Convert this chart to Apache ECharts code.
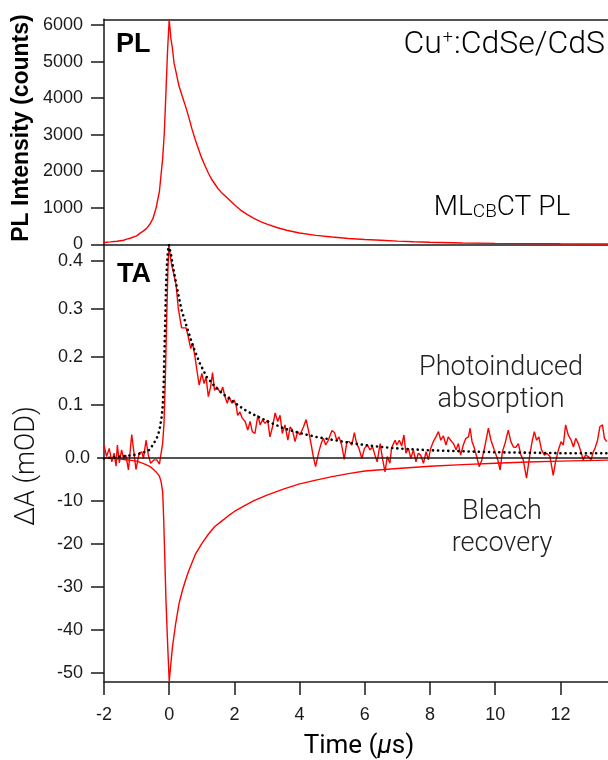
<!DOCTYPE html>
<html>
<head>
<meta charset="utf-8">
<script src="https://cdn.jsdelivr.net/npm/echarts@6/dist/echarts.min.js"></script>
<style>
html, body { margin: 0; padding: 0; background: #fff; }
#chart { width: 608px; height: 760px; }
</style>
</head>
<body>
<div id="chart"></div>
<script>
// tick labels
var timeTicks = [-2, 0, 2, 4, 6, 8, 10, 12];
var plTicks = [0, 1000, 2000, 3000, 4000, 5000, 6000];
var piaTicks = [0.1, 0.2, 0.3, 0.4];
var bleachTicks = [-50, -40, -30, -20, -10];

// PL trace (counts)
var plTime = [-2.0, -1.8, -1.6, -1.4, -1.3, -1.2, -1.0, -0.9, -0.8, -0.7, -0.6, -0.5, -0.4, -0.3, -0.2, -0.15, -0.1, -0.05, 0.0,
  0.05, 0.1, 0.15, 0.2, 0.3, 0.4, 0.5, 0.6, 0.7, 0.8, 0.9, 1.0, 1.1, 1.2, 1.3, 1.4, 1.5, 1.6, 1.8, 2.0, 2.2, 2.4, 2.6, 2.8,
  3.0, 3.3, 3.6, 4.0, 4.5, 5.0, 5.5, 6.0, 6.5, 7.0, 7.5, 8.0, 9.0, 10.0, 11.0, 12.0, 13.5];
var plCounts = [50, 65, 85, 110, 140, 165, 230, 300, 360, 430, 540, 700, 1000, 1450, 2350, 3050, 4150, 5300, 6150,
  5650, 5350, 4950, 4750, 4330, 4050, 3780, 3480, 3150, 2860, 2600, 2350, 2150, 1950, 1780, 1650, 1520, 1420, 1250, 1080, 930, 810, 710, 620,
  550, 460, 385, 310, 245, 200, 160, 130, 110, 88, 70, 55, 36, 25, 18, 14, 10];

// TA photoinduced absorption (mOD)
var taTime = [-2.0, -1.92, -1.84, -1.76, -1.69, -1.63, -1.59, -1.53, -1.46, -1.39, -1.33, -1.25, -1.15, -1.08, -1.02, -0.92, -0.84, -0.79, -0.71, -0.64,
  -0.57, -0.47, -0.38, -0.30, -0.26, -0.20, -0.16, -0.12, -0.08, -0.04, -0.01, 0.02, 0.08, 0.15, 0.21, 0.28, 0.33, 0.38, 0.45, 0.52,
  0.59, 0.66, 0.72, 0.79, 0.84, 0.92, 1.0, 1.07, 1.13, 1.2, 1.27, 1.33, 1.39, 1.46, 1.51, 1.58, 1.64, 1.71, 1.78, 1.84,
  1.92, 1.99, 2.05, 2.10, 2.17, 2.24, 2.33, 2.41, 2.48, 2.55, 2.63, 2.72, 2.79, 2.86, 2.94, 3.02, 3.09, 3.17, 3.25, 3.33,
  3.40, 3.47, 3.55, 3.64, 3.71, 3.78, 3.86, 3.94, 4.01, 4.12, 4.20, 4.27, 4.35, 4.42, 4.49, 4.58, 4.66, 4.73, 4.80, 4.88,
  4.99, 5.07, 5.14, 5.21, 5.29, 5.37, 5.45, 5.52, 5.60, 5.68, 5.75, 5.82, 5.91, 5.99, 6.08, 6.16, 6.24, 6.31, 6.38, 6.47,
  6.55, 6.62, 6.69, 6.77, 6.82, 6.88, 6.93, 6.98, 7.06, 7.13, 7.20, 7.26, 7.34, 7.41, 7.49, 7.57, 7.64, 7.71, 7.80, 7.88,
  7.95, 8.02, 8.10, 8.18, 8.26, 8.33, 8.41, 8.49, 8.56, 8.63, 8.72, 8.80, 8.87, 8.94, 9.02, 9.10, 9.18, 9.23, 9.29, 9.35,
  9.43, 9.51, 9.59, 9.66, 9.72, 9.79, 9.87, 9.97, 10.08, 10.15, 10.22, 10.30, 10.40, 10.48, 10.56, 10.63, 10.71, 10.79, 10.86, 10.96,
  11.07, 11.14, 11.20, 11.27, 11.34, 11.42, 11.51, 11.58, 11.68, 11.78, 11.85, 11.94, 12.02, 12.09, 12.16, 12.24, 12.33, 12.40, 12.47, 12.55,
  12.63, 12.70, 12.77, 12.86, 12.94, 13.01, 13.06, 13.14, 13.21, 13.29, 13.35, 13.42];
var taPIA = [0.016, -0.008, 0.009, -0.019, -0.001, -0.028, 0.016, -0.021, 0.006, -0.015, -0.005, -0.036, 0.038, -0.001, -0.035, -0.001, 0.002, -0.012, 0.026, -0.005,
  -0.022, -0.015, -0.015, -0.024, -0.022, 0.02, 0.06, 0.15, 0.27, 0.38, 0.43, 0.433, 0.39, 0.37, 0.35, 0.30, 0.30, 0.26, 0.26, 0.26,
  0.24, 0.217, 0.228, 0.2, 0.176, 0.141, 0.165, 0.144, 0.158, 0.117, 0.137, 0.167, 0.13, 0.137, 0.141, 0.124, 0.137, 0.117, 0.103, 0.117,
  0.103, 0.11, 0.099, 0.078, 0.085, 0.072, 0.065, 0.047, 0.065, 0.044, 0.040, 0.078, 0.058, 0.068, 0.061, 0.068, 0.033, 0.054, 0.083, 0.065,
  0.078, 0.040, 0.058, 0.026, 0.054, 0.047, 0.023, 0.044, 0.037, 0.054, 0.069, 0.047, 0.019, -0.008, -0.029, -0.001, 0.019, 0.030, 0.016, 0.026,
  0.046, 0.042, 0.026, 0.033, 0.016, -0.014, 0.023, 0.023, 0.016, 0.042, 0.019, 0.009, -0.012, 0.009, 0.016, 0.006, 0.012, -0.005, -0.019, 0.019,
  -0.015, -0.040, -0.008, -0.022, 0.009, 0.019, 0.026, 0.016, 0.026, 0.014, 0.037, -0.001, 0.009, -0.012, 0.006, -0.019, -0.001, -0.005, -0.022, 0.002,
  -0.015, 0.009, 0.023, 0.033, 0.044, 0.026, 0.035, 0.016, 0.033, 0.026, 0.019, 0.006, 0.019, -0.005, 0.016, 0.030, 0.033, 0.051, 0.023, 0.012,
  -0.008, -0.029, -0.015, 0.006, 0.026, 0.051, 0.026, 0.006, -0.015, -0.036, 0.002, 0.019, 0.047, 0.023, 0.012, 0.011, 0.019, -0.005, -0.015, -0.053,
  -0.001, 0.026, 0.044, 0.026, 0.033, 0.006, -0.005, -0.001, -0.008, -0.047, -0.019, 0.006, 0.023, 0.016, 0.058, 0.037, 0.026, 0.012, 0.030, 0.019,
  0.002, -0.015, -0.005, -0.008, -0.015, 0.002, 0.009, 0.026, 0.054, 0.058, 0.030, 0.023];

// fit to the photoinduced absorption (dotted)
var fitTime = [-2.0, -1.5, -1.1, -0.8, -0.6, -0.45, -0.35, -0.28, -0.23, -0.2, -0.17, -0.15, -0.12, -0.1, -0.07, -0.04, -0.01,
  0.05, 0.1, 0.23, 0.38, 0.54, 0.74, 0.94, 1.15, 1.4, 1.66, 1.97, 2.3, 2.6, 3.0, 3.5, 4.0, 4.5, 5.0, 5.5, 6.0, 6.5, 7.0, 7.5, 8.0,
  9.0, 10.0, 11.0, 12.0, 13.46];
var fitPIA = [-0.012, -0.008, -0.005, 0.0, 0.006, 0.022, 0.035, 0.054, 0.075, 0.096, 0.14, 0.2, 0.28, 0.34, 0.39, 0.42, 0.433,
  0.415, 0.394, 0.346, 0.297, 0.262, 0.22, 0.186, 0.158, 0.138, 0.122, 0.106, 0.09, 0.079, 0.066, 0.051, 0.041, 0.033, 0.027, 0.021, 0.016, 0.012, 0.009, 0.007, 0.005,
  0.003, 0.001, 0.0, -0.001, -0.001];

// bleach recovery (mOD)
var bleachTime = [-2.0, -1.5, -1.0, -0.8, -0.6, -0.5, -0.4, -0.3, -0.25, -0.2, -0.17, -0.14, -0.1, -0.05, 0.0,
  0.05, 0.1, 0.2, 0.3, 0.4, 0.5, 0.6, 0.8, 1.0, 1.2, 1.4, 1.6, 1.8, 2.0, 2.3, 2.6, 3.0, 3.5, 4.0, 4.5, 5.0, 5.5, 6.0,
  7.0, 8.0, 9.0, 10.0, 11.0, 12.0, 13.5];
var bleachMOD = [0, -0.3, -0.8, -1.3, -2.0, -2.6, -3.3, -4.3, -5.5, -8, -14, -22, -33, -43, -52,
  -48, -44, -38.5, -34, -31, -28.5, -26.3, -22.5, -20, -17.8, -16, -14.8, -13.6, -12.5, -11.2, -10, -8.7, -7.3, -6.1, -5.2, -4.4, -3.7, -3.1,
  -2.5, -2.0, -1.6, -1.3, -1.0, -0.8, -0.55];

function zip(xs, ys) {
  var out = [];
  for (var i = 0; i < xs.length; i++) out.push([xs[i], ys[i]]);
  return out;
}

var ink = '#1a1a1a';
var red = '#ff0000';
var font = '"Liberation Sans", Arial, Helvetica, sans-serif';
var light = 'Roboto, "Liberation Sans", sans-serif';
var tMin = -2, tMax = 13.46;

var lineAxis = { show: true, onZero: false, lineStyle: { color: ink, width: 1.5 } };
var noAxisLine = { show: false, onZero: false };
var plain = function (v) { return String(v); };

var myChart = echarts.init(document.getElementById('chart'), null, { renderer: 'canvas' });

var option = {
  animation: false,
  backgroundColor: '#fff',
  grid: [
    { left: 104, right: 0, top: 19.3, height: 225 },       // PL panel
    { left: 104, right: 0, top: 244.3, height: 437.7 }     // TA panel
  ],
  xAxis: [
    { gridIndex: 0, type: 'value', min: tMin, max: tMax, position: 'bottom',
      axisLine: lineAxis, axisTick: { show: false }, axisLabel: { show: false }, splitLine: { show: false } },
    { gridIndex: 0, type: 'value', min: tMin, max: tMax, position: 'top',
      axisLine: lineAxis, axisTick: { show: false }, axisLabel: { show: false }, splitLine: { show: false } },
    { gridIndex: 1, type: 'value', min: tMin, max: tMax, position: 'bottom',
      axisLine: lineAxis,
      axisTick: { show: true, inside: false, length: 13, customValues: timeTicks, lineStyle: { color: ink, width: 1.5 } },
      axisLabel: { show: true, margin: 24, customValues: timeTicks, color: ink, fontFamily: font, fontSize: 18, formatter: plain },
      splitLine: { show: false } }
  ],
  yAxis: [
    { gridIndex: 0, type: 'value', min: 0, max: 6156, position: 'left',
      axisLine: lineAxis,
      axisTick: { show: true, length: 13, customValues: plTicks, lineStyle: { color: ink, width: 1.5 } },
      axisLabel: { show: true, margin: 21, customValues: plTicks, color: ink, fontFamily: font, fontSize: 18, formatter: plain },
      splitLine: { show: false } },
    { gridIndex: 1, type: 'value', min: -0.4777, max: 0.4342, position: 'left', offset: 0,
      axisLine: lineAxis,
      axisTick: { show: true, length: 13, customValues: piaTicks, lineStyle: { color: ink, width: 1.5 } },
      axisLabel: { show: true, margin: 21, customValues: piaTicks, color: ink, fontFamily: font, fontSize: 18,
        formatter: function (v) { return v.toFixed(1); } },
      splitLine: { show: false } },
    { gridIndex: 1, type: 'value', min: -52.16, max: 49.63, position: 'left', offset: 0,
      axisLine: noAxisLine,
      axisTick: { show: true, length: 13, customValues: bleachTicks, lineStyle: { color: ink, width: 1.5 } },
      axisLabel: { show: true, margin: 21, customValues: bleachTicks, color: ink, fontFamily: font, fontSize: 18, formatter: plain },
      splitLine: { show: false } },
    { gridIndex: 1, type: 'value', min: -52.16, max: 49.63, position: 'left', offset: 0,
      axisLine: noAxisLine,
      axisTick: { show: true, length: 7, customValues: [0], lineStyle: { color: ink, width: 1.5 } },
      axisLabel: { show: true, margin: 14, customValues: [0], color: ink, fontFamily: font, fontSize: 18,
        formatter: function () { return '0.0'; } },
      splitLine: { show: false } }
  ],
  series: [
    { name: 'PL', type: 'line', xAxisIndex: 0, yAxisIndex: 0, data: zip(plTime, plCounts),
      showSymbol: false, lineStyle: { color: red, width: 1.4 }, z: 3 },
    { name: 'Bleach', type: 'line', xAxisIndex: 2, yAxisIndex: 2, data: zip(bleachTime, bleachMOD),
      showSymbol: false, lineStyle: { color: red, width: 1.4 }, z: 3,
      markLine: { silent: true, symbol: 'none', label: { show: false },
        lineStyle: { color: ink, width: 1.5, type: 'solid' }, data: [{ yAxis: 0 }] } },
    { name: 'PIA', type: 'line', xAxisIndex: 2, yAxisIndex: 1, data: zip(taTime, taPIA),
      showSymbol: false, lineStyle: { color: red, width: 1.4 }, z: 3 },
    { name: 'Fit', type: 'line', xAxisIndex: 2, yAxisIndex: 1, data: zip(fitTime, fitPIA),
      showSymbol: false, lineStyle: { color: '#000', width: 2.6, type: [0.1, 5], cap: 'round' }, z: 4 }
  ],
  graphic: [
    { type: 'text', x: 116, y: 45, style: { text: 'PL', font: 'bold 27px ' + font, fill: '#000', textAlign: 'left', textVerticalAlign: 'middle' } },
    { type: 'text', x: 117, y: 275, style: { text: 'TA', font: 'bold 27px ' + font, fill: '#000', textAlign: 'left', textVerticalAlign: 'middle' } },
    { type: 'text', x: 605, y: 45, style: { text: '{a|Cu}{s|+}{a|:CdSe/CdS}', textAlign: 'right', textVerticalAlign: 'middle',
        rich: { a: { fontFamily: light, fontWeight: 300, fontSize: 32, color: '#222' }, s: { fontFamily: light, fontWeight: 300, fontSize: 18, color: '#222', verticalAlign: 'top', padding: [0, 1, 10, 1] } } } },
    { type: 'text', x: 502, y: 208, style: { text: '{a|ML}{s|CB}{a|CT PL}', textAlign: 'center', textVerticalAlign: 'middle',
        rich: { a: { fontFamily: light, fontWeight: 300, fontSize: 28, color: '#222', verticalAlign: 'bottom' }, s: { fontFamily: light, fontWeight: 300, fontSize: 19, color: '#222', verticalAlign: 'bottom' } } } },
    { type: 'text', x: 501, y: 384, style: { text: 'Photoinduced\nabsorption', font: '300 27px ' + light, fill: '#222', textAlign: 'center', textVerticalAlign: 'middle', lineHeight: 32 } },
    { type: 'text', x: 502, y: 528, style: { text: 'Bleach\nrecovery', font: '300 27px ' + light, fill: '#222', textAlign: 'center', textVerticalAlign: 'middle', lineHeight: 32 } },
    { type: 'text', x: 22, y: 128, rotation: Math.PI / 2, style: { text: 'PL Intensity (counts)', font: 'bold 23px ' + font, fill: '#000', textAlign: 'center', textVerticalAlign: 'middle' } },
    { type: 'text', x: 27, y: 466, rotation: Math.PI / 2, style: { text: 'ΔA (mOD)', font: '300 27px ' + light, fill: '#111', textAlign: 'center', textVerticalAlign: 'middle' } },
    { type: 'text', x: 359, y: 746, style: { text: '{a|Time (}{i|μ}{a|s)}', textAlign: 'center', textVerticalAlign: 'middle',
        rich: { a: { fontFamily: light, fontWeight: 400, fontSize: 26, color: '#111' }, i: { fontFamily: light, fontWeight: 400, fontSize: 26, fontStyle: 'italic', color: '#111' } } } }
  ]
};

myChart.setOption(option);
</script>
</body>
</html>
